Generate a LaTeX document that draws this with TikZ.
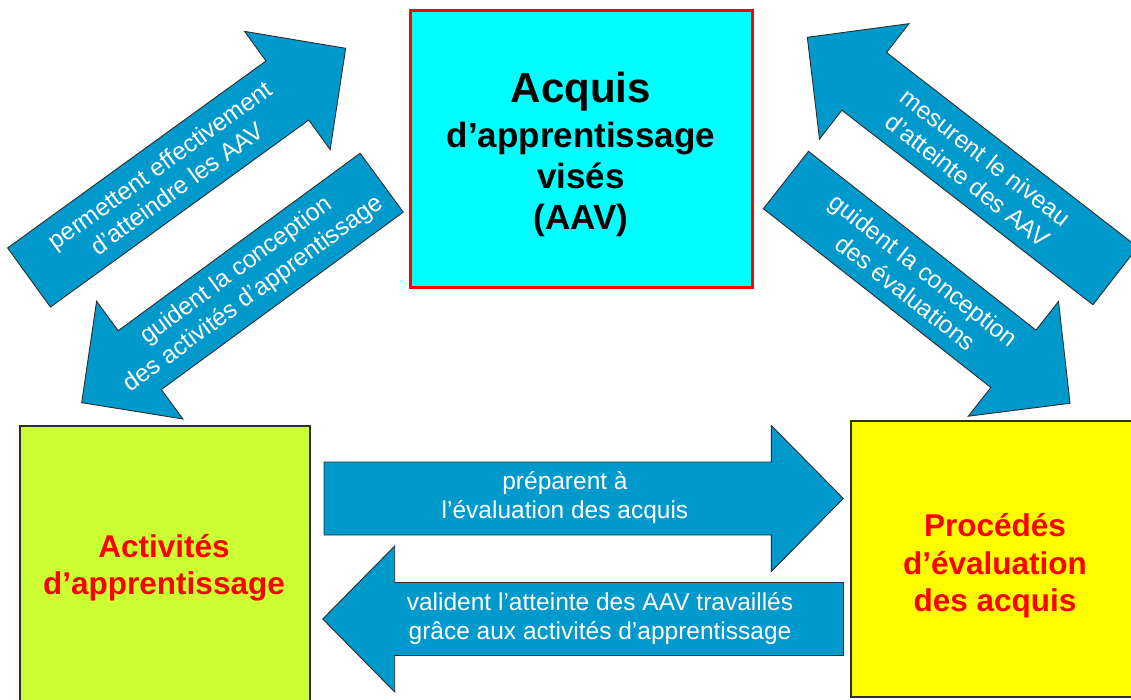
\documentclass[tikz,border=0pt]{standalone}
\usepackage{fontspec}
\setmainfont{Liberation Sans}
\usetikzlibrary{calc}
\definecolor{arrblue}{RGB}{0,153,204}
\definecolor{cyanbox}{RGB}{0,255,255}
\definecolor{greenbox}{RGB}{204,255,51}
\definecolor{yellowbox}{RGB}{255,255,0}
\definecolor{redtxt}{RGB}{255,0,0}
\definecolor{edgegray}{RGB}{45,45,45}
\newcommand\blockarrow[2]{%
  \path ($(#2)!72pt!(#1)$) coordinate (#2h);
  \filldraw[barrow] ($(#1)!36.5pt!90:(#2)$) -- ($(#2h)!36.5pt!90:(#2)$) -- ($(#2h)!73pt!90:(#2)$) -- (#2)
     -- ($(#2h)!73pt!-90:(#2)$) -- ($(#2h)!36.5pt!-90:(#2)$) -- ($(#1)!36.5pt!-90:(#2)$) -- cycle;}
\begin{document}
\begin{tikzpicture}[x=1pt,y=-1pt,
  barrow/.style={fill=arrblue, draw=edgegray, line width=0.9pt, line join=miter},
  lbl/.style={text=white, font=\fontsize{24.5}{29}\selectfont, align=center, inner sep=0pt},
  boxbase/.style={draw=edgegray, line width=1.2pt, inner sep=0pt},
  bigtxt/.style={font=\bfseries\fontsize{31.5}{37.5}\selectfont, text=redtxt, align=center, inner sep=0pt}]
\useasboundingbox[fill=white] (0,0) rectangle (1131,700);
% boxes
\node[boxbase, draw=redtxt, line width=3pt, fill=cyanbox, minimum width=342pt, minimum height=277pt] (aavbox) at (581,149.5) {};
\node[boxbase, fill=greenbox, minimum width=290pt, minimum height=284pt] (actbox) at (165,568) {};
\node[boxbase, fill=yellowbox, minimum width=284pt, minimum height=276pt] (evbox) at (993,559) {};
\node[align=center, inner sep=0pt, font=\bfseries\fontsize{35}{41}\selectfont] (aavtxt) at (581,154)
  {{\fontsize{42}{46}\selectfont Acquis}\\[4pt]d’apprentissage\\visés\\(AAV)};
\node[bigtxt] (acttxt) at (164,568) {Activités\\d’apprentissage};
\node[bigtxt] (evtxt) at (995,566) {Procédés\\d’évaluation\\des acquis};
% arrow end points
\coordinate (t1) at (29,277.5);    \coordinate (p1) at (345.7,48.3);
\coordinate (t2) at (381.7,182.7); \coordinate (p2) at (81.7,402.7);
\coordinate (t3) at (1115.3,275.9);\coordinate (p3) at (807.3,37.3);
\coordinate (t4) at (785.9,180);   \coordinate (p4) at (1070,403.3);
\coordinate (t5) at (324,498.5);   \coordinate (p5) at (843.3,498.5);
\coordinate (t6) at (843.3,619);   \coordinate (p6) at (322.7,619);
\blockarrow{t1}{p1}
\blockarrow{t2}{p2}
\blockarrow{t3}{p3}
\blockarrow{t4}{p4}
\blockarrow{t5}{p5}
\blockarrow{t6}{p6}
\node[lbl, rotate=35.9] (l1) at ($(t1)!0.44!(p1)$) {permettent effectivement\\d’atteindre les AAV};
\node[lbl, rotate=36.3] (l2) at ($(t2)!0.455!(p2)$) {guident la conception\\des activités d’apprentissage};
\node[lbl, rotate=-37.8] (l3) at ($(t3)!0.45!(p3)$) {mesurent le niveau\\d’atteinte des AAV};
\node[lbl, rotate=-38.2] (l4) at ($(t4)!0.454!(p4)$) {guident la conception\\des évaluations};
\node[lbl] (l5) at (565,498) {préparent à\\l’évaluation des acquis};
\node[lbl] (l6) at (600,619) {valident l’atteinte des AAV travaillés\\grâce aux activités d’apprentissage};
\end{tikzpicture}
\end{document}
